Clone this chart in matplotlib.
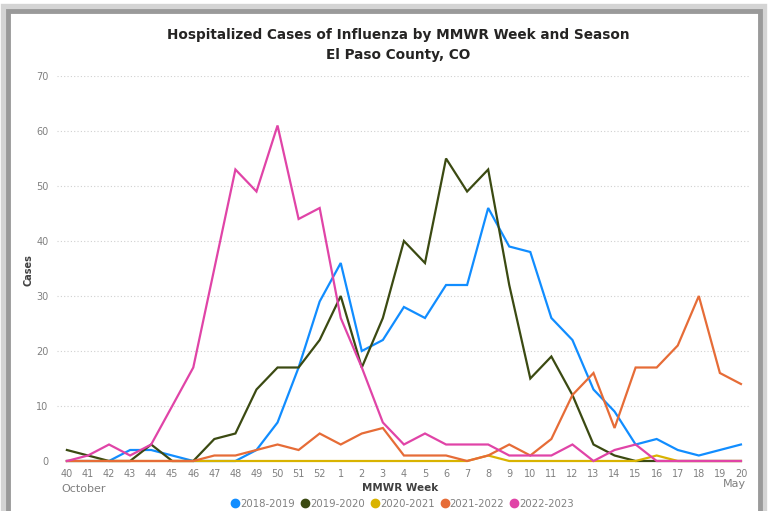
import matplotlib
matplotlib.use('Agg')
import matplotlib.pyplot as plt
from matplotlib.patches import Rectangle
from matplotlib.lines import Line2D

# MMWR weeks, October to May
weeks = ['40', '41', '42', '43', '44', '45', '46', '47', '48', '49', '50', '51', '52',
         '1', '2', '3', '4', '5', '6', '7', '8', '9', '10', '11', '12', '13', '14',
         '15', '16', '17', '18', '19', '20']

s2018 = [0, 0, 0, 2, 2, 1, 0, 0, 0, 2, 7, 17, 29, 36, 20, 22, 28, 26, 32, 32, 46,
         39, 38, 26, 22, 13, 9, 3, 4, 2, 1, 2, 3]
s2019 = [2, 1, 0, 0, 3, 0, 0, 4, 5, 13, 17, 17, 22, 30, 17, 26, 40, 36, 55, 49, 53,
         32, 15, 19, 12, 3, 1, 0, 0, 0, 0, 0, 0]
s2020 = [0, 0, 0, 0, 0, 0, 0, 0, 0, 0, 0, 0, 0, 0, 0, 0, 0, 0, 0, 0, 1,
         0, 0, 0, 0, 0, 0, 0, 1, 0, 0, 0, 0]
s2021 = [0, 0, 0, 0, 0, 0, 0, 1, 1, 2, 3, 2, 5, 3, 5, 6, 1, 1, 1, 0, 1,
         3, 1, 4, 12, 16, 6, 17, 17, 21, 30, 16, 14]
s2022 = [0, 1, 3, 1, 3, 10, 17, 35, 53, 49, 61, 44, 46, 26, 17, 7, 3, 5, 3, 3, 3,
         1, 1, 1, 3, 0, 2, 3, 0, 0, 0, 0, 0]

seasons = ['2018-2019', '2019-2020', '2020-2021', '2021-2022', '2022-2023']
colors = ['#118DFF', '#3B4A12', '#D9B300', '#E66C37', '#E044A7']
series = [s2018, s2019, s2020, s2021, s2022]

W, H = 770, 511
fig = plt.figure(figsize=(W / 100, H / 100), dpi=100)
fig.set_facecolor('white')

# grey frame of the screenshot
fig.patches.append(Rectangle((5 / W, -0.05), 758 / W, 1.05 - 8 / H, transform=fig.transFigure,
                             fill=False, edgecolor='#d4d4d4', linewidth=6, zorder=0))
fig.patches.append(Rectangle((8 / W, -0.05), 752 / W, 1.05 - 11 / H, transform=fig.transFigure,
                             fill=False, edgecolor='#9a9a9a', linewidth=3.5, zorder=1))

ax = fig.add_axes([57 / W, 1 - 461 / H, 693 / W, 385 / H])
x = list(range(len(weeks)))
for vals, c in zip(series, colors):
    ax.plot(x, vals, color=c, linewidth=1.6, clip_on=False, solid_joinstyle='miter')

ax.set_xlim(-0.47, len(weeks) - 1 + 0.43)
ax.set_ylim(0, 70)
ax.set_yticks(range(0, 71, 10))
ax.set_xticks(x)
ax.set_xticklabels(weeks)
ax.grid(axis='y', linestyle=(0, (1, 2)), color='#d0d0d0', linewidth=0.8)
ax.set_axisbelow(True)
for sp in ax.spines.values():
    sp.set_visible(False)
ax.tick_params(length=0, labelsize=7, labelcolor='#808080', pad=6)
ax.tick_params(axis='y', pad=6)

fig.text(398 / W, 1 - 35 / H, 'Hospitalized Cases of Influenza by MMWR Week and Season',
         ha='center', va='center', fontsize=9.8, fontweight='bold', color='#252423')
fig.text(398 / W, 1 - 55 / H, 'El Paso County, CO',
         ha='center', va='center', fontsize=9.8, fontweight='bold', color='#252423')

fig.text(28 / W, 1 - 270 / H, 'Cases', rotation=90, ha='center', va='center',
         fontsize=7, fontweight='bold', color='#404040')
fig.text(400 / W, 1 - 488 / H, 'MMWR Week', ha='center', va='center',
         fontsize=7.5, fontweight='bold', color='#404040')
fig.text(61 / W, 1 - 489 / H, 'October', ha='left', va='center', fontsize=8, color='#808080')
fig.text(746 / W, 1 - 484 / H, 'May', ha='right', va='center', fontsize=8, color='#808080')

handles = [Line2D([], [], marker='o', linestyle='none', markersize=6, color=c) for c in colors]
leg = fig.legend(handles, seasons, loc='center', bbox_to_anchor=(402 / W, 1 - 504 / H), ncol=5,
                 frameon=False, fontsize=7.3, handletextpad=0.0, columnspacing=0.5,
                 handlelength=1.0, borderpad=0)
for t in leg.get_texts():
    t.set_color('#808080')

fig.savefig('out.png', dpi=100, facecolor='white')
